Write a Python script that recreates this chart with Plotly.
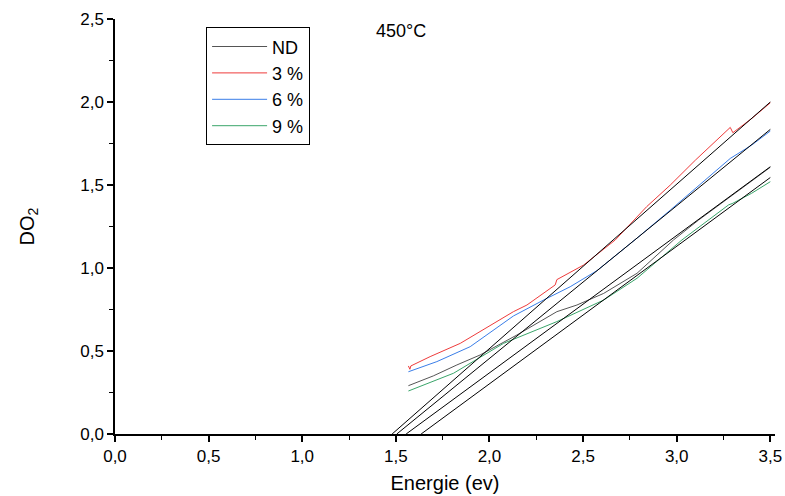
import plotly.graph_objects as go

# ---- data ----
nd_x = [1.567, 1.70, 1.826, 1.95, 2.146, 2.36, 2.467, 2.61, 2.788, 2.983, 3.117, 3.25, 3.30, 3.34, 3.42, 3.50]
nd_y = [0.291, 0.35, 0.416, 0.476, 0.596, 0.737, 0.777, 0.847, 0.968, 1.169, 1.289, 1.40, 1.44, 1.47, 1.54, 1.607]

r3_x = [1.567, 1.575, 1.58, 1.683, 1.844, 1.95, 2.128, 2.2, 2.351, 2.36, 2.503, 2.672, 2.84, 2.966, 3.10, 3.286, 3.30, 3.40, 3.50]
r3_y = [0.41, 0.39, 0.41, 0.466, 0.546, 0.616, 0.737, 0.777, 0.898, 0.930, 1.018, 1.169, 1.37, 1.50, 1.65, 1.847, 1.815, 1.90, 1.995]

b6_x = [1.567, 1.719, 1.897, 2.128, 2.289, 2.431, 2.574, 2.788, 2.966, 3.10, 3.286, 3.40, 3.50]
b6_y = [0.375, 0.436, 0.526, 0.711, 0.807, 0.887, 0.984, 1.180, 1.349, 1.48, 1.66, 1.74, 1.825]

g9_x = [1.567, 1.808, 2.075, 2.36, 2.61, 2.788, 3.028, 3.17, 3.277, 3.30, 3.40, 3.50]
g9_y = [0.259, 0.366, 0.546, 0.677, 0.807, 0.938, 1.169, 1.289, 1.38, 1.39, 1.45, 1.52]

series_names = ["ND", "3 %", "6 %", "9 %"]
series_colors = ["#555555", "#ee3b3b", "#3a7ee8", "#3aa56a"]

# tangent lines: x-intercept and value at E = 3.5
tan_x0 = [1.555, 1.48, 1.505, 1.635]
tan_end_x = [3.5, 3.5, 3.5, 3.5]
tan_end_y = [1.61, 2.0, 1.835, 1.545]

xs = [nd_x, r3_x, b6_x, g9_x]
ys = [nd_y, r3_y, b6_y, g9_y]

fig = go.Figure()
for name, c, x, y in zip(series_names, series_colors, xs, ys):
    fig.add_trace(go.Scatter(x=x, y=y, mode="lines", name=name,
                             line=dict(color=c, width=1)))
for x0, xe, ye in zip(tan_x0, tan_end_x, tan_end_y):
    fig.add_trace(go.Scatter(x=[x0, xe], y=[0, ye], mode="lines",
                             line=dict(color="black", width=1), showlegend=False,
                             hoverinfo="skip"))

axis_common = dict(
    showline=True, linecolor="black", linewidth=1.5,
    ticks="outside", ticklen=6, tickwidth=1.5, tickcolor="black",
    showgrid=False, zeroline=False, mirror=False, automargin=False,
    tickfont=dict(size=17, color="black"),
    minor=dict(ticks="outside", ticklen=4, tickwidth=1, tickcolor="black", dtick=0.25),
    dtick=0.5, tickformat=".1f",
)

fig.update_layout(
    width=785, height=496,
    margin=dict(l=115, r=10, t=19, b=62),
    paper_bgcolor="white", plot_bgcolor="white",
    font=dict(family="Liberation Sans, Arial, sans-serif", color="black"),
    separators=", ",
    xaxis=dict(range=[0, 3.525], title=dict(text="Energie (ev)", font=dict(size=20), standoff=11), **axis_common),
    yaxis=dict(range=[0, 2.5], title=dict(text="DO<sub>2</sub>", font=dict(size=20), standoff=40), **axis_common),
    legend=dict(x=0.138, y=0.98, xanchor="left", yanchor="top",
                bordercolor="black", borderwidth=1, bgcolor="rgba(255,255,255,0)",
                font=dict(size=18), itemwidth=55, tracegroupgap=0),
    annotations=[dict(text="450°C", x=0.433, y=1.0, xref="paper", yref="paper",
                      xanchor="center", yanchor="top", showarrow=False,
                      font=dict(size=18))],
)

fig.write_html("out.html")
